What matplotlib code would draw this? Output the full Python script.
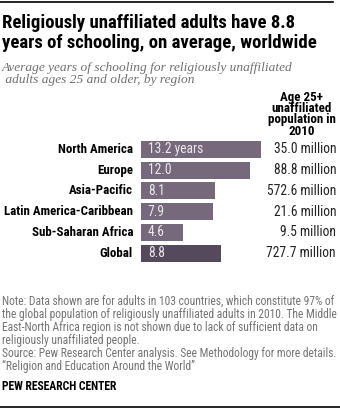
import matplotlib
matplotlib.use('Agg')
import matplotlib.pyplot as plt
from matplotlib import font_manager
from matplotlib.lines import Line2D

regions = ["North America", "Europe", "Asia-Pacific", "Latin America-Caribbean",
           "Sub-Saharan Africa", "Global"]
years = [13.2, 12.0, 8.1, 7.9, 4.6, 8.8]
value_labels = ["13.2 years", "12.0", "8.1", "7.9", "4.6", "8.8"]
populations = ["35.0 million", "88.8 million", "572.6 million", "21.6 million",
               "9.5 million", "727.7 million"]

title_lines = ["Religiously unaffiliated adults have 8.8",
               "years of schooling, on average, worldwide"]
subtitle_lines = ["Average years of schooling for religiously unaffiliated",
                  " adults ages 25 and older, by region"]
header_lines = ["Age 25+", "unaffiliated", "population in", "2010"]
note_lines = ["Note: Data shown are for adults in 103 countries, which constitute 97% of",
              "the global population of religiously unaffiliated adults in 2010. The Middle",
              "East-North Africa region is not shown due to lack of sufficient data on",
              "religiously unaffiliated people.",
              "Source: Pew Research Center analysis. See Methodology for more details.",
              "\u201cReligion and Education Around the World\u201d"]
brand = "PEW RESEARCH CENTER"

names = {f.name for f in font_manager.fontManager.ttflist}
def pick(cands):
    for c in cands:
        if c in names:
            return c
    return "DejaVu Sans"
SANS = pick(["Liberation Sans Narrow", "Roboto Condensed", "Open Sans Condensed", "Liberation Sans"])
SANS_REG = pick(["Liberation Sans Narrow", "Roboto Condensed", "Liberation Sans"])
SERIF = pick(["Liberation Serif", "DejaVu Serif"])

W, H = 340, 409
fig = plt.figure(figsize=(W / 100, H / 100), dpi=100)
fig.patch.set_facecolor("white")
renderer = fig.canvas.get_renderer()

def fx(x):
    return x / W
def fy(y):
    return 1 - y / H

def fit_size(text, target, **kw):
    t = fig.text(0, 0, text, fontsize=10, **kw)
    w = t.get_window_extent(renderer).width
    t.remove()
    return 10 * target / w

# rules
fig.add_artist(Line2D([fx(0), fx(333)], [fy(1.5), fy(1.5)], color="black", lw=1.2))
fig.add_artist(Line2D([fx(0), fx(340)], [fy(407), fy(407)], color="black", lw=1.2))

# title
tkw = dict(family=SANS, weight="bold", color="black")
ts = fit_size(title_lines[0], 293, **tkw)
for line, yb in zip(title_lines, [28, 48]):
    fig.text(fx(2), fy(yb), line, fontsize=ts, va="baseline", ha="left", **tkw)

# subtitle
skw = dict(family=SERIF, style="italic", color="#6f6f6f")
ss = fit_size(subtitle_lines[0], 290, **skw)
for line, yb in zip(subtitle_lines, [71, 83.5]):
    fig.text(fx(2), fy(yb), line, fontsize=ss, va="baseline", ha="left", **skw)

# header
hkw = dict(family=SANS, weight="bold", color="black")
hs = fit_size("population in", 68, **hkw)
for line, yc in zip(header_lines, [97, 108.5, 120, 131.5]):
    fig.text(fx(302), fy(yc), line, fontsize=hs, va="center", ha="center", **hkw)

# bars
row_top, row_h = 139.0, 20.75
n = len(regions)
ax_top = row_top
ax_bot = row_top + row_h * n
px_per_unit = 9.09
xmax = 14.0
ax = fig.add_axes([fx(141), fy(ax_bot), px_per_unit * xmax / W, (ax_bot - ax_top) / H])
colors = ["#75697b"] * (n - 1) + ["#554a5c"]
ypos = list(range(n))
ax.barh(ypos, years, height=0.81, color=colors, left=0)
ax.set_xlim(0, xmax)
ax.set_ylim(n - 0.5, -0.5)
ax.axis("off")

lkw = dict(family=SANS, weight="bold", color="black")
ls = fit_size("Latin America-Caribbean", 129, **lkw)
vkw = dict(family=SANS_REG, color="#ece8ee")
vs = fit_size("13.2 years", 55, **vkw)
pkw = dict(family=SANS_REG, color="#222222")
ps = fit_size("572.6 million", 69, **pkw)
for i in range(n):
    yc = row_top + row_h * (i + 0.5)
    fig.text(fx(133), fy(yc), regions[i], fontsize=ls, ha="right", va="center", **lkw)
    ax.text(0.75, i, value_labels[i], fontsize=vs, ha="left", va="center", **vkw)
    fig.text(fx(336), fy(yc), populations[i], fontsize=ps, ha="right", va="center", **pkw)

# notes
nkw = dict(family=SANS_REG, color="#747474")
ns = fit_size(note_lines[1], 334, **nkw)
for k, line in enumerate(note_lines):
    fig.text(fx(2), fy(305 + 13 * k), line, fontsize=ns, va="baseline", ha="left", **nkw)

bkw = dict(family=SANS, weight="bold", color="black")
bs = fit_size(brand, 115, **bkw)
fig.text(fx(2), fy(389.5), brand, fontsize=bs, va="baseline", ha="left", **bkw)

fig.savefig("out.png", dpi=100, facecolor="white")
